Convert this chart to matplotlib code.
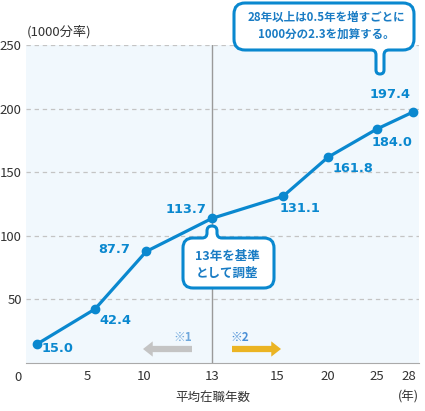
import numpy as np
import matplotlib
matplotlib.use("Agg")
import matplotlib.pyplot as plt
from matplotlib.path import Path
from matplotlib.patches import PathPatch
from matplotlib.transforms import Affine2D

plt.rcParams['font.family'] = ['Noto Sans CJK JP', 'DejaVu Sans']

# data
years = [1.4, 5.7, 10.1, 13, 15.6, 20, 25, 28.4]
rates = [15.0, 42.4, 87.7, 113.7, 131.1, 161.8, 184.0, 197.4]
rate_labels = ['15.0', '42.4', '87.7', '113.7', '131.1', '161.8', '184.0', '197.4']
x_ticks = [5, 10, 13, 15, 20, 25, 28]
y_ticks = [50, 100, 150, 200, 250]

BLUE = '#0A88CF'
TEXT = '#333333'
W, H = 425, 411

# the year axis is not evenly spaced in the original drawing
YEAR_KNOTS = np.array([-2, 0, 5, 10, 13, 15, 20, 25, 28, 31])
PIX_KNOTS = np.array([-10, 18, 87, 144, 212, 277, 328, 377, 409, 441])


def fwd(v):
    return np.interp(v, YEAR_KNOTS, PIX_KNOTS)


def inv(p):
    return np.interp(p, PIX_KNOTS, YEAR_KNOTS)


def bubble(x0, y0, x1, y1, r, tx, ty, hw, c, side):
    v = [(x0 + r, y0)]
    k = [Path.MOVETO]
    if side == 'top':
        v += [(tx - hw - c, y0), (tx - hw, y0), (tx - hw, y0 - c),
              (tx - hw, ty + hw), (tx - hw, ty), (tx, ty),
              (tx + hw, ty), (tx + hw, ty + hw), (tx + hw, y0 - c),
              (tx + hw, y0), (tx + hw + c, y0)]
        k += [Path.LINETO, Path.CURVE3, Path.CURVE3, Path.LINETO,
              Path.CURVE3, Path.CURVE3, Path.CURVE3, Path.CURVE3,
              Path.LINETO, Path.CURVE3, Path.CURVE3]
    v += [(x1 - r, y0), (x1, y0), (x1, y0 + r), (x1, y1 - r), (x1, y1), (x1 - r, y1)]
    k += [Path.LINETO, Path.CURVE3, Path.CURVE3, Path.LINETO, Path.CURVE3, Path.CURVE3]
    if side == 'bottom':
        v += [(tx + hw + c, y1), (tx + hw, y1), (tx + hw, y1 + c),
              (tx + hw, ty - hw), (tx + hw, ty), (tx, ty),
              (tx - hw, ty), (tx - hw, ty - hw), (tx - hw, y1 + c),
              (tx - hw, y1), (tx - hw - c, y1)]
        k += [Path.LINETO, Path.CURVE3, Path.CURVE3, Path.LINETO,
              Path.CURVE3, Path.CURVE3, Path.CURVE3, Path.CURVE3,
              Path.LINETO, Path.CURVE3, Path.CURVE3]
    v += [(x0 + r, y1), (x0, y1), (x0, y1 - r), (x0, y0 + r), (x0, y0), (x0 + r, y0), (x0 + r, y0)]
    k += [Path.LINETO, Path.CURVE3, Path.CURVE3, Path.LINETO, Path.CURVE3, Path.CURVE3, Path.CLOSEPOLY]
    return Path(v, k)


fig = plt.figure(figsize=(W / 100, H / 100), dpi=100)
ax = fig.add_axes([26 / W, (H - 363) / H, (419 - 26) / W, (363 - 45) / H])
ax.set_facecolor('#F1F8FD')
ax.set_xscale('function', functions=(fwd, inv))
ax.set_xlim(inv(26), inv(419))
ax.set_ylim(0, 250)

for y in y_ticks:
    ax.axhline(y, color='#c4c4c4', lw=0.9, ls=(0, (3.5, 3)), zorder=1)
ax.axvline(13, color='#9a9a9a', lw=1, zorder=1)

ax.plot(years, rates, color=BLUE, lw=2.3, marker='o', ms=6, zorder=3)

offsets = [(20, 5), (20, 11), (-32, -2), (-26, -9), (17, 12), (25, 11), (15, 14), (-23, -17)]
for x, y, lab, (dx, dy) in zip(years, rates, rate_labels, offsets):
    ax.annotate(lab, (x, y), xytext=(dx * 0.72, -dy * 0.72), textcoords='offset points',
                ha='center', va='center', color=BLUE, fontsize=9.3, fontweight='bold',
                family='DejaVu Sans', zorder=4)

ax.set_xticks(x_ticks)
ax.set_xticklabels([str(t) for t in x_ticks])
ax.set_yticks(y_ticks)
ax.minorticks_off()
ax.tick_params(axis='both', length=0, labelsize=9.5, labelcolor=TEXT)
ax.tick_params(axis='x', pad=5)
ax.tick_params(axis='y', pad=3)
for s in ['top', 'right', 'left']:
    ax.spines[s].set_visible(False)
ax.spines['bottom'].set_color('#aaaaaa')

# pixel coordinates, measured from the top-left corner
px = Affine2D().scale(1 / W, -1 / H).translate(0, 1) + fig.transFigure

fig.text(18, 377, '0', transform=px, ha='center', va='center', fontsize=9.5, color=TEXT)
fig.text(27, 32, '(1000分率)', transform=px, ha='left', va='center', fontsize=9.5, color=TEXT)
fig.text(213, 397, '平均在職年数', transform=px, ha='center', va='center', fontsize=9, color=TEXT)
fig.text(408, 397, '(年)', transform=px, ha='center', va='center', fontsize=9, color=TEXT)

# period arrows
fig.text(183, 337, '※1', transform=px, ha='center', va='center', fontsize=8.5,
         fontweight='bold', color='#6fa8dc')
fig.text(240, 337, '※2', transform=px, ha='center', va='center', fontsize=8.5,
         fontweight='bold', color='#4a8fd6')
ax.annotate('', xy=(143, 349), xytext=(192, 349), xycoords=px, textcoords=px,
            arrowprops=dict(arrowstyle='simple,head_length=0.7,head_width=1.1,tail_width=0.45',
                        color='#c4c4c4', lw=0, shrinkA=0, shrinkB=0))
ax.annotate('', xy=(281, 349), xytext=(232, 349), xycoords=px, textcoords=px,
            arrowprops=dict(arrowstyle='simple,head_length=0.7,head_width=1.1,tail_width=0.45',
                        color='#EBB423', lw=0, shrinkA=0, shrinkB=0))

# callouts
b1 = bubble(234, 3, 414, 50, 11, 380, 74, 4, 5, 'bottom')
fig.add_artist(PathPatch(b1, transform=px, fc='white', ec=BLUE, lw=2.2, zorder=5))
fig.text(326, 26, '28年以上は0.5年を増すごとに\n1000分の2.3を加算する。', transform=px,
         ha='center', va='center', fontsize=8.3, fontweight='bold', color='#1a7cc4',
         linespacing=1.45, zorder=6)

b2 = bubble(183, 238, 274, 288, 10, 212, 226, 5, 5, 'top')
fig.add_artist(PathPatch(b2, transform=px, fc='white', ec=BLUE, lw=2.2, zorder=5))
fig.text(227, 265, '13年を基準\nとして調整', transform=px,
         ha='center', va='center', fontsize=9, fontweight='bold', color='#1a7cc4',
         linespacing=1.45, zorder=6)

fig.savefig('out.png', dpi=100)
